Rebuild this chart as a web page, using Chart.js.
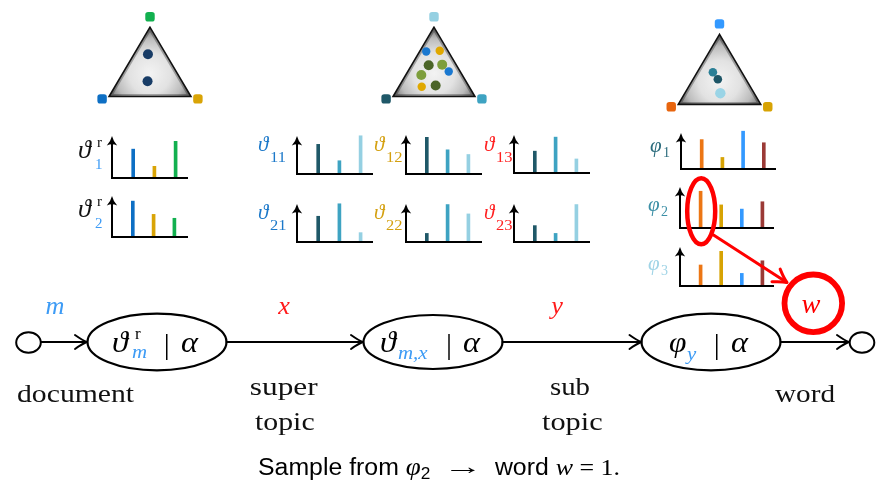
<!DOCTYPE html>
<html>
<head>
<meta charset="utf-8">
<script src="https://cdn.jsdelivr.net/npm/chart.js@4.4.1/dist/chart.umd.min.js"></script>
<style>
  html, body { margin: 0; padding: 0; background: #fff; }
  #stage { position: relative; width: 877px; height: 485px; overflow: hidden; }
  #stage canvas { position: absolute; }
</style>
</head>
<body>
<div id="stage"></div>
<script>
// ---- topic proportions (bar heights) ----
const superTopics = ['1', '2', '3'];
const subTopics = ['1', '2', '3'];
const words = ['1', '2', '3', '4'];

const thetaR1 = [0.37, 0.15, 0.47];
const thetaR2 = [0.46, 0.29, 0.24];
const theta11 = [0.38, 0.17, 0.49];
const theta12 = [0.47, 0.31, 0.25];
const theta13 = [0.28, 0.46, 0.18];
const theta21 = [0.33, 0.49, 0.12];
const theta22 = [0.11, 0.48, 0.36];
const theta23 = [0.21, 0.11, 0.48];
const phi1 = [0.28, 0.11, 0.36, 0.25];
const phi2 = [0.35, 0.22, 0.18, 0.25];
const phi3 = [0.20, 0.33, 0.12, 0.24];

// ---- points on the simplices, as [top, left, right] weights ----
const docMix = [[0.61, 0.22, 0.17], [0.22, 0.42, 0.36]];
const superMix = [[0.65, 0.27, 0.08], [0.66, 0.10, 0.24], [0.45, 0.34, 0.21], [0.46, 0.17, 0.37],
                  [0.36, 0.14, 0.50], [0.31, 0.50, 0.19], [0.14, 0.58, 0.28], [0.16, 0.40, 0.44]];
const subMix = [[0.46, 0.35, 0.19], [0.36, 0.34, 0.30], [0.16, 0.41, 0.43]];

const sampledWord = 1;

// ---- colours ----
const rootColors = ['#0d6fc4', '#d9a406', '#12b04f'];
const subColors = ['#1f5868', '#3ea3c2', '#95d0e2'];
const wordColors = ['#ec7614', '#d7a304', '#3399ff', '#9b3a36'];
const oliveDark = '#4b6528', oliveLight = '#7d9e3c';
const superPointColors = ['#1a78d0', '#e0a800', oliveDark, oliveLight, '#1a78d0', oliveLight, '#e0a800', oliveDark];
const subPointColors = ['#2a7f96', '#1d5566', '#9ad4e6'];

const SERIF = '"Liberation Serif","DejaVu Serif",serif';
const SANS = '"Liberation Sans",Arial,sans-serif';
Chart.defaults.font.family = SERIF;

const stage = document.getElementById('stage');
function makeCanvas(x, y, w, h) {
  const c = document.createElement('canvas');
  c.width = w; c.height = h;
  c.style.left = x + 'px'; c.style.top = y + 'px';
  c.style.width = w + 'px'; c.style.height = h + 'px';
  stage.appendChild(c);
  return c;
}

const baseOptions = () => ({
  responsive: false, animation: false, devicePixelRatio: 1, events: [],
  plugins: { legend: { display: false }, tooltip: { enabled: false } }
});

// ---- simplex (triangle) charts ----
const H3 = Math.sqrt(3) / 2;
function baryToXY(m) { return { x: m[2] + m[0] / 2, y: m[0] * H3 }; }

const simplexShade = {
  id: 'simplexShade',
  beforeDatasetsDraw(chart) {
    const { ctx, scales: { x, y } } = chart;
    const T = [x.getPixelForValue(0.5), y.getPixelForValue(H3)];
    const L = [x.getPixelForValue(0), y.getPixelForValue(0)];
    const R = [x.getPixelForValue(1), y.getPixelForValue(0)];
    const cx = (T[0] + L[0] + R[0]) / 3, cy = (T[1] + L[1] + R[1]) / 3;
    const rad = Math.hypot(T[0] - cx, T[1] - cy);
    ctx.save();
    ctx.beginPath(); ctx.moveTo(...T); ctx.lineTo(...L); ctx.lineTo(...R); ctx.closePath();
    const g = ctx.createRadialGradient(cx, cy, 0, cx, cy, rad);
    g.addColorStop(0, '#f3f3f3'); g.addColorStop(0.45, '#e2e2e2');
    g.addColorStop(0.75, '#bcbcbc'); g.addColorStop(1, '#6e6e6e');
    ctx.fillStyle = g; ctx.fill();
    ctx.clip();
    ctx.lineWidth = 5; ctx.strokeStyle = 'rgba(0,0,0,0.28)'; ctx.stroke();
    ctx.restore();
    ctx.save();
    ctx.beginPath(); ctx.moveTo(...T); ctx.lineTo(...L); ctx.lineTo(...R); ctx.closePath();
    ctx.lineJoin = 'miter'; ctx.lineWidth = 1.6; ctx.strokeStyle = '#111'; ctx.stroke();
    ctx.restore();
  }
};

function simplexChart(leftX, baseY, side, mixes, pointColors, radii, cornerColors) {
  const x0 = -0.3, x1 = 1.3, y0 = -0.15, y1 = 1.1;
  const w = Math.round((x1 - x0) * side), h = Math.round((y1 - y0) * side);
  const cv = makeCanvas(Math.round(leftX + x0 * side), Math.round(baseY - y1 * side), w, h);
  const corners = [{ x: 0.5, y: H3 + 0.13 }, { x: -0.085, y: -0.03 }, { x: 1.085, y: -0.03 }];
  const opts = baseOptions();
  opts.layout = { padding: 0 };
  opts.scales = {
    x: { type: 'linear', min: x0, max: x1, display: false },
    y: { type: 'linear', min: y0, max: y1, display: false }
  };
  new Chart(cv, {
    type: 'scatter',
    data: {
      datasets: [
        { data: corners, pointStyle: 'rectRounded', pointRadius: 5.5, backgroundColor: cornerColors, borderWidth: 0, clip: false },
        { data: mixes.map(baryToXY), pointStyle: 'circle', pointRadius: radii, backgroundColor: pointColors, borderWidth: 0, clip: false }
      ]
    },
    options: opts,
    plugins: [simplexShade]
  });
}

simplexChart(106, 100.7, 89, docMix, ['#183c66', '#183c66'], 5, ['#12b04f', '#0d6fc4', '#d9a406']);
simplexChart(390, 100.7, 89, superMix, superPointColors, [4.2, 4.2, 5, 5, 4.2, 5, 4.2, 5], ['#95d0e2', '#1f5868', '#3ea3c2']);
simplexChart(675, 108.3, 89.3, subMix, subPointColors, [4.3, 4.3, 5.2], ['#3399ff', '#e8650e', '#d7a304']);

// ---- small bar charts with arrow axes ----
const arrowAxes = {
  id: 'arrowAxes',
  afterDatasetsDraw(chart) {
    const { ctx, chartArea: a } = chart;
    ctx.save();
    ctx.strokeStyle = '#000'; ctx.fillStyle = '#000'; ctx.lineWidth = 2;
    ctx.beginPath();
    ctx.moveTo(a.left - 1, a.bottom); ctx.lineTo(a.right, a.bottom);
    ctx.moveTo(a.left, a.bottom + 1); ctx.lineTo(a.left, a.top + 5);
    ctx.stroke();
    const t = a.top, x = a.left;
    ctx.beginPath();
    ctx.moveTo(x, t);
    ctx.quadraticCurveTo(x + 1.4, t + 5.5, x + 5.2, t + 9.5);
    ctx.quadraticCurveTo(x, t + 6.8, x - 5.2, t + 9.5);
    ctx.quadraticCurveTo(x - 1.4, t + 5.5, x, t);
    ctx.fill();
    ctx.restore();
  }
};

function miniBars(values, cats, colors, axisX, tipY, baseY, endX, step, unit) {
  const padL = 7, padR = 3, padT = 3, padB = 3;
  const ax = Math.round(axisX), tp = Math.round(tipY), bs = Math.round(baseY);
  const w = Math.round(endX - axisX), h = bs - tp;
  const cv = makeCanvas(ax - padL, tp - padT, w + padL + padR, h + padT + padB);
  const opts = baseOptions();
  opts.layout = { padding: { left: padL, right: padR, top: padT, bottom: padB } };
  opts.scales = {
    x: { type: 'linear', min: 0, max: w / step, offset: false, display: false },
    y: { type: 'linear', min: 0, max: h / unit, display: false }
  };
  new Chart(cv, {
    type: 'bar',
    data: {
      labels: cats,
      datasets: [{
        data: values.map((v, i) => ({ x: i + 1, y: v })),
        backgroundColor: colors, barThickness: 3, borderWidth: 0, clip: false
      }]
    },
    options: opts,
    plugins: [arrowAxes]
  });
}

const TU = 78, PU = 105; // pixels per unit of probability
miniBars(thetaR1, superTopics, rootColors, 112, 136, 178, 188, 21.2, TU);
miniBars(thetaR2, superTopics, rootColors, 112, 196, 237, 188, 20.8, TU);
miniBars(theta11, subTopics, subColors, 297, 135.5, 173.5, 373, 21.2, TU);
miniBars(theta21, subTopics, subColors, 297, 204, 241.5, 373, 21.2, TU);
miniBars(theta12, subTopics, subColors, 406, 134.5, 173.5, 482, 20.8, TU);
miniBars(theta22, subTopics, subColors, 406, 204, 241.5, 482, 20.8, TU);
miniBars(theta13, subTopics, subColors, 514, 134.5, 173, 590, 20.8, TU);
miniBars(theta23, subTopics, subColors, 514, 204, 241.5, 590, 20.8, TU);
miniBars(phi1, words, wordColors, 681, 132.5, 168.5, 776, 20.7, PU);
miniBars(phi2, words, wordColors, 679.5, 187, 228, 773.5, 20.6, PU);
miniBars(phi3, words, wordColors, 679.5, 247, 286, 773.5, 20.6, PU);

// ---- diagram layer: labels, flow chain, sampling annotation ----
function txt(ctx, s, x, y, font, color, align, sx) {
  ctx.save();
  ctx.font = font; ctx.fillStyle = color; ctx.textBaseline = 'alphabetic';
  ctx.textAlign = align || 'left';
  ctx.translate(x, y); ctx.scale(sx || 1, 1);
  ctx.fillText(s, 0, 0);
  ctx.restore();
}
// draw text so that its inked extent spans x0..x1
function fit(ctx, s, x0, x1, y, font, color) {
  ctx.save();
  ctx.font = font; ctx.fillStyle = color; ctx.textAlign = 'left'; ctx.textBaseline = 'alphabetic';
  const m = ctx.measureText(s);
  const vis = m.actualBoundingBoxRight + m.actualBoundingBoxLeft;
  ctx.translate(x0, y); ctx.scale((x1 - x0) / vis, 1);
  ctx.fillText(s, m.actualBoundingBoxLeft, 0);
  ctx.restore();
}
// a run of differently styled pieces [text, font, dy, stretch], spanning x0..x1
function run(ctx, pieces, x0, x1, y, color) {
  ctx.save();
  ctx.fillStyle = color; ctx.textAlign = 'left'; ctx.textBaseline = 'alphabetic';
  let total = 0;
  pieces.forEach(p => { ctx.font = p[1]; total += ctx.measureText(p[0]).width * (p[3] || 1); });
  ctx.translate(x0, y); ctx.scale((x1 - x0) / total, 1);
  let cx = 0;
  pieces.forEach(p => {
    ctx.font = p[1];
    const k = p[3] || 1;
    ctx.save(); ctx.translate(cx, p[2] || 0); ctx.scale(k, 1);
    ctx.fillText(p[0], 0, 0);
    ctx.restore();
    cx += ctx.measureText(p[0]).width * k;
  });
  ctx.restore();
}
function oval(ctx, cx, cy, rx, ry, lw, color) {
  ctx.save();
  ctx.beginPath(); ctx.ellipse(cx, cy, rx, ry, 0, 0, Math.PI * 2);
  ctx.lineWidth = lw; ctx.strokeStyle = color; ctx.stroke();
  ctx.restore();
}
function arrow(ctx, x0, y0, x1, y1, lw, color, head) {
  const ang = Math.atan2(y1 - y0, x1 - x0);
  ctx.save();
  ctx.strokeStyle = color; ctx.lineWidth = lw; ctx.lineCap = 'round'; ctx.lineJoin = 'round';
  ctx.beginPath(); ctx.moveTo(x0, y0); ctx.lineTo(x1 - Math.cos(ang), y1 - Math.sin(ang)); ctx.stroke();
  ctx.translate(x1, y1); ctx.rotate(ang);
  ctx.beginPath();
  ctx.moveTo(-head, -head * 0.58);
  ctx.quadraticCurveTo(-head * 0.35, -head * 0.12, 0, 0);
  ctx.quadraticCurveTo(-head * 0.35, head * 0.12, -head, head * 0.58);
  ctx.stroke();
  ctx.restore();
}

const IT = (px) => 'italic ' + px + 'px ' + SERIF;
const RM = (px) => px + 'px ' + SERIF;
const LBLUE = '#3d9bf5', RED = '#ff1a1a';

const diagram = {
  id: 'diagram',
  afterDraw(chart) {
    const ctx = chart.ctx;

    // labels of the small bar charts
    txt(ctx, 'ϑ', 78, 158, IT(25), '#111', 'left', 1.05);
    txt(ctx, 'r', 97, 147, RM(15), '#111');
    txt(ctx, '1', 95, 169, RM(15), LBLUE);
    txt(ctx, 'ϑ', 78, 217, IT(25), '#111', 'left', 1.05);
    txt(ctx, 'r', 97, 206, RM(15), '#111');
    txt(ctx, '2', 95, 228, RM(15), LBLUE);

    const colLabel = [['#1b78c9', 258], ['#d4a010', 374], ['#ff2020', 484]];
    colLabel.forEach(([c, x], j) => {
      txt(ctx, 'ϑ', x, 151, IT(21), c);
      txt(ctx, '1' + (j + 1), x + 12, 161.5, RM(15), c, 'left', 1.1);
      txt(ctx, 'ϑ', x, 219, IT(21), c);
      txt(ctx, '2' + (j + 1), x + 12, 229.5, RM(15), c, 'left', 1.1);
    });

    const phiLabel = [['#2b6b7c', 650, 152], ['#3c8fa6', 648, 211], ['#a0d4e6', 648, 270]];
    phiLabel.forEach(([c, x, y], k) => {
      txt(ctx, 'φ', x, y, IT(21), c);
      txt(ctx, String(k + 1), x + 13, y + 5, RM(14), c);
    });

    // flow chain
    const Y = 342;
    oval(ctx, 28.5, Y + 0.5, 12.3, 10.3, 2, '#000');
    arrow(ctx, 41, Y, 87, Y, 2, '#000', 12);
    oval(ctx, 157, Y, 69.5, 28.3, 2.2, '#000');
    arrow(ctx, 226.5, Y, 363, Y, 2, '#000', 12);
    oval(ctx, 433, Y, 69.5, 27, 2.2, '#000');
    arrow(ctx, 502.5, Y, 641.5, Y, 2, '#000', 12);
    oval(ctx, 711, Y, 69.5, 28.3, 2.2, '#000');
    arrow(ctx, 780.5, Y, 849, Y, 2, '#000', 12);
    oval(ctx, 862, Y + 0.5, 12.3, 10.3, 2, '#000');

    // node contents
    txt(ctx, 'ϑ', 112, 352, IT(30), '#000', 'left', 1.08);
    txt(ctx, 'r', 135, 339, RM(17), '#000');
    txt(ctx, 'm', 132, 358, IT(19), LBLUE, 'left', 1.1);
    txt(ctx, '|', 166.7, 353.5, RM(30), '#000', 'center');
    txt(ctx, 'α', 181, 352, IT(30), '#000', 'left', 1.08);

    txt(ctx, 'ϑ', 380, 352, IT(30), '#000', 'left', 1.08);
    txt(ctx, 'm,x', 398, 359, IT(19), LBLUE, 'left', 1.1);
    txt(ctx, '|', 449, 353.5, RM(30), '#000', 'center');
    txt(ctx, 'α', 463, 352, IT(30), '#000', 'left', 1.08);

    txt(ctx, 'φ', 669, 352, IT(30), '#000', 'left', 1.05);
    txt(ctx, 'y', 687, 360, IT(19), LBLUE, 'left', 1.1);
    txt(ctx, '|', 716.7, 353.5, RM(30), '#000', 'center');
    txt(ctx, 'α', 731, 352, IT(30), '#000', 'left', 1.08);

    // indices above the chain
    txt(ctx, 'm', 55, 314, IT(25), LBLUE, 'center', 1.05);
    txt(ctx, 'x', 284, 314, IT(25), RED, 'center', 1.05);
    txt(ctx, 'y', 557, 314, IT(25), RED, 'center', 1.05);

    // names below the chain
    fit(ctx, 'document', 17, 135, 402, RM(26), '#111');
    fit(ctx, 'super', 251, 318, 395, RM(26), '#111');
    fit(ctx, 'topic', 255, 314, 430, RM(26), '#111');
    fit(ctx, 'sub', 551, 590, 395, RM(26), '#111');
    fit(ctx, 'topic', 542, 602, 430, RM(26), '#111');
    fit(ctx, 'word', 775, 835, 402, RM(26), '#111');

    // sampling annotation
    oval(ctx, 701.2, 211.3, 14, 33, 4.5, '#ff0000');
    arrow(ctx, 713.5, 235, 787, 282.5, 3, '#ff0000', 13);
    oval(ctx, 813.3, 303.3, 28.8, 28.8, 5.8, '#ff0000');
    txt(ctx, 'w', 811, 313, IT(27), '#ff0000', 'center', 1.05);

    // caption
    const S24 = '23px ' + SANS;
    run(ctx, [
      ['Sample from ', S24],
      ['φ', IT(25)],
      ['2', '16px ' + SANS, 4],
      ['  ', RM(23)],
      ['\u2192', RM(23), -1, 1.6],
      ['  ', RM(23)],
      ['word ', S24],
      ['w', IT(24)],
      [' = ', RM(24)],
      [sampledWord + '.', RM(24)]
    ], 258, 620, 475, '#000');
  }
};

const overlayOpts = baseOptions();
overlayOpts.layout = { padding: 0 };
overlayOpts.scales = {
  x: { type: 'linear', min: 0, max: 877, display: false },
  y: { type: 'linear', min: 0, max: 485, reverse: true, display: false }
};
new Chart(makeCanvas(0, 0, 877, 485), {
  type: 'scatter',
  data: { datasets: [] },
  options: overlayOpts,
  plugins: [diagram]
});
</script>
</body>
</html>
